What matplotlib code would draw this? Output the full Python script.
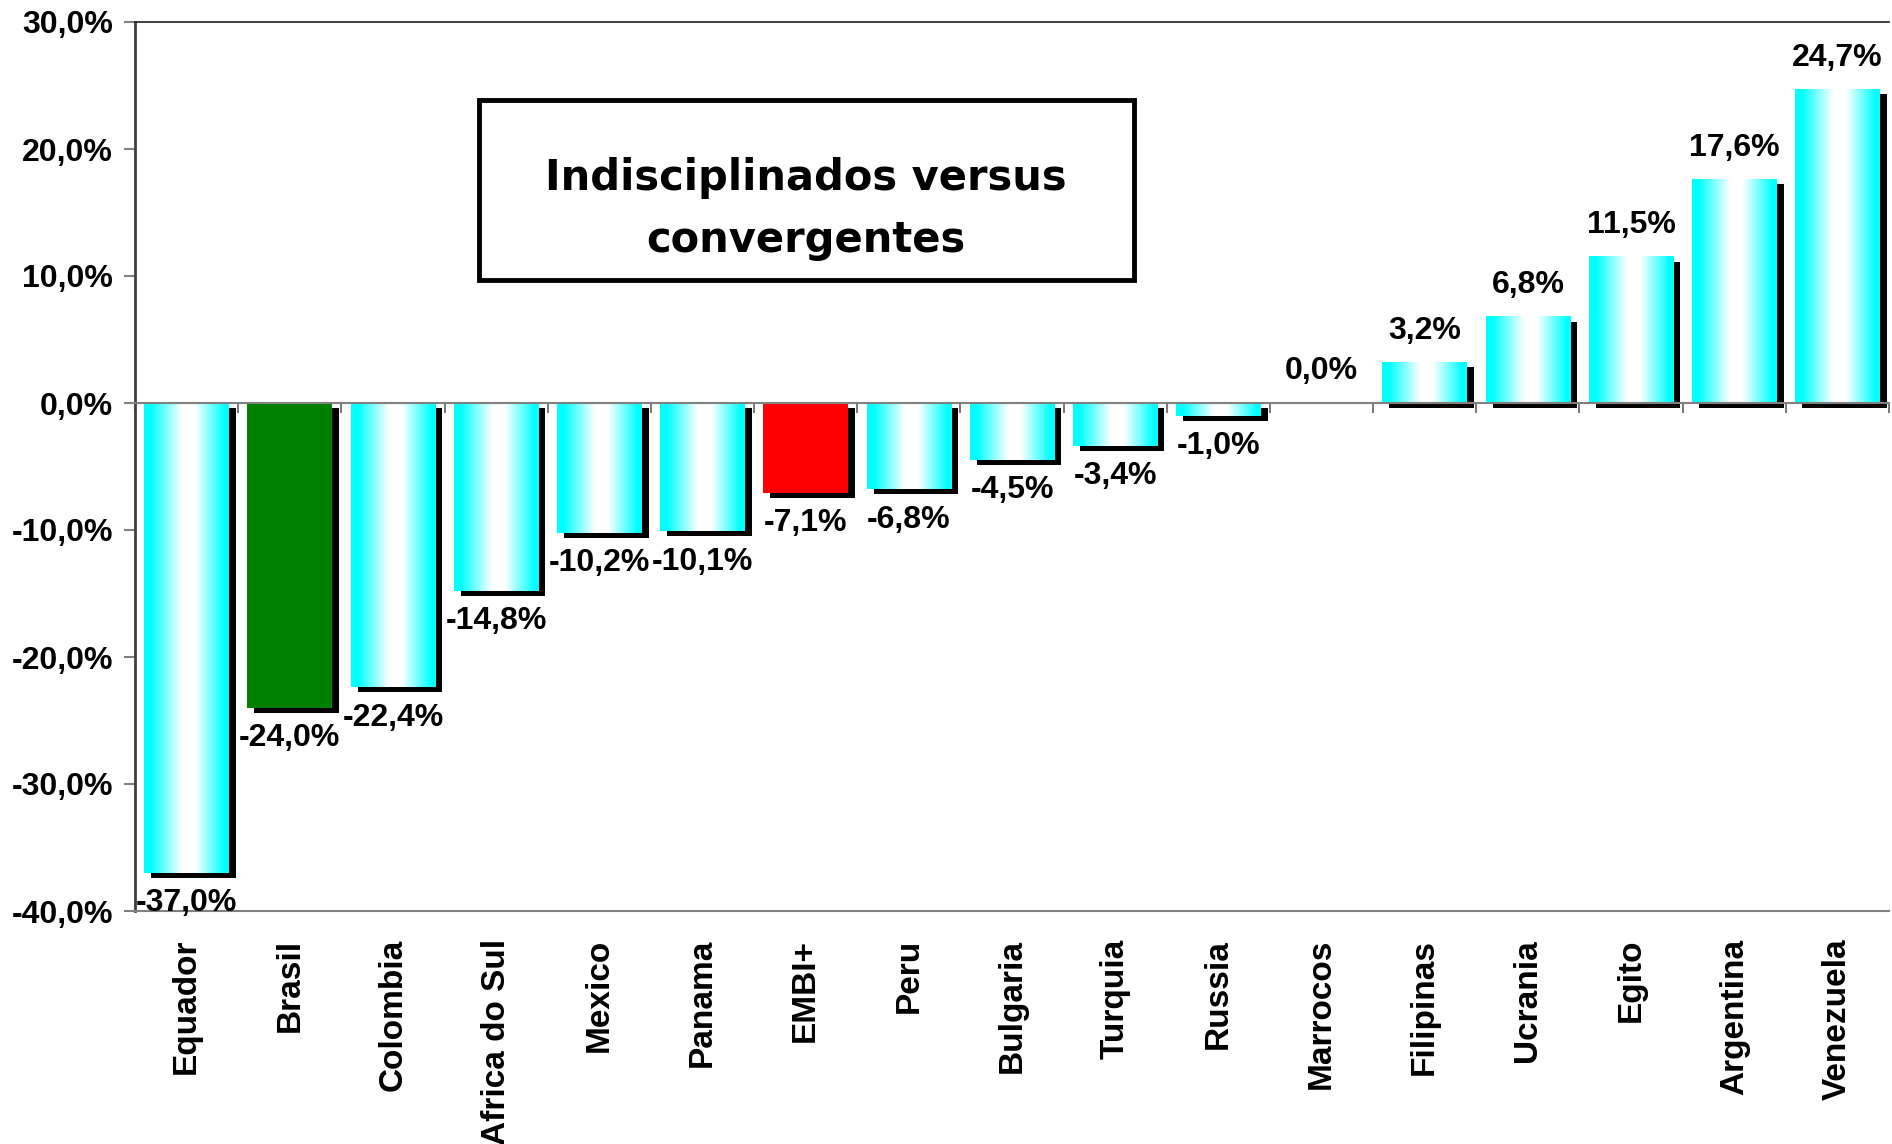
import matplotlib
matplotlib.use("Agg")
import matplotlib.pyplot as plt
import matplotlib.transforms as mtransforms
from matplotlib.patches import Rectangle
import numpy as np

# data
countries = ["Equador", "Brasil", "Colombia", "Africa do Sul", "Mexico", "Panama",
             "EMBI+", "Peru", "Bulgaria", "Turquia", "Russia", "Marrocos",
             "Filipinas", "Ucrania", "Egito", "Argentina", "Venezuela"]
values = [-37.0, -24.0, -22.4, -14.8, -10.2, -10.1, -7.1, -6.8, -4.5, -3.4, -1.0,
          0.0, 3.2, 6.8, 11.5, 17.6, 24.7]
solid_colors = {"Brasil": "#008000", "EMBI+": "#ff0000"}
y_ticks = [30, 20, 10, 0, -10, -20, -30, -40]
title = "Indisciplinados versus\nconvergentes"

FONT = "Liberation Sans"
BAR_W = 0.82


def pct(v):
    return f"{v:.1f}%".replace(".", ",")


fig = plt.figure(figsize=(18.92, 11.44), dpi=100)
ax = fig.add_axes([135 / 1892, 1 - 911 / 1144, (1889 - 135) / 1892, (911 - 22) / 1144])

# cyan -> white -> cyan horizontal gradient
t = np.linspace(0, 1, 200)
w = np.interp(t, [0, 0.08, 0.45, 0.6, 0.95, 1], [0, 0, 1, 1, 0, 0])
grad = np.stack([w, np.ones_like(w), np.ones_like(w)], axis=-1)[None, :, :]

x = np.arange(len(countries))
shadow = ax.transData + mtransforms.ScaledTranslation(7 / 100, -5 / 100, fig.dpi_scale_trans)
ax.bar(x, values, width=BAR_W, color="black", transform=shadow, zorder=1)

for i, (name, v) in enumerate(zip(countries, values)):
    x0, x1 = i - BAR_W / 2, i + BAR_W / 2
    if name in solid_colors:
        ax.bar(i, v, width=BAR_W, color=solid_colors[name], zorder=2)
    elif v != 0:
        ax.imshow(grad, extent=[x0, x1, min(0, v), max(0, v)], aspect="auto",
                  interpolation="bilinear", zorder=2)
    if v >= 0:
        ax.annotate(pct(v), (i, v), xytext=(0, 12), textcoords="offset points",
                    ha="center", va="bottom", fontsize=23, fontweight="bold",
                    family=FONT, zorder=5)
    else:
        ax.annotate(pct(v), (i, v), xytext=(0, -11), textcoords="offset points",
                    ha="center", va="top", fontsize=23, fontweight="bold",
                    family=FONT, zorder=5)
    ax.annotate(name, (i, -40), xytext=(0, -20), textcoords="offset points",
                rotation=90, ha="center", va="top", fontsize=24, fontweight="bold",
                family=FONT, annotation_clip=False)

ax.set_xlim(-0.5, len(countries) - 0.5)
ax.set_ylim(-40, 30)

# x axis sits on the zero line with ticks between categories
ax.spines["bottom"].set_position(("data", 0))
ax.spines["bottom"].set_color("#808080")
ax.spines["bottom"].set_linewidth(1.5)
ax.spines["bottom"].set_zorder(4)
ax.set_xticks(x)
ax.set_xticklabels([])
ax.tick_params(axis="x", which="major", length=0)
ax.set_xticks(np.arange(len(countries) + 1) - 0.5, minor=True)
ax.tick_params(axis="x", which="minor", direction="out", length=7, width=1.2, color="#606060")
ax.axhline(-40, color="#808080", lw=1.5, zorder=4, clip_on=False)

ax.spines["left"].set_color("#404040")
ax.spines["left"].set_linewidth(2)
ax.spines["top"].set_color("#202020")
ax.spines["top"].set_linewidth(1.2)
ax.spines["right"].set_visible(False)

ax.set_yticks(y_ticks)
ax.set_yticklabels([pct(v) for v in y_ticks], fontsize=23, fontweight="bold", family=FONT)
ax.tick_params(axis="y", direction="out", length=8, width=1.5, color="#808080", pad=8)

# title box
fig.patches.append(Rectangle((479 / 1892, 1 - 280 / 1144), (1134 - 479) / 1892, 180 / 1144,
                             transform=fig.transFigure, facecolor="white",
                             edgecolor="black", linewidth=3.5, zorder=6))
fig.text(806 / 1892, 1 - 209 / 1144, title, ha="center", va="center", fontsize=30,
         fontweight="bold", family="DejaVu Sans", linespacing=1.62, zorder=7)

fig.savefig("out.png", dpi=100)
